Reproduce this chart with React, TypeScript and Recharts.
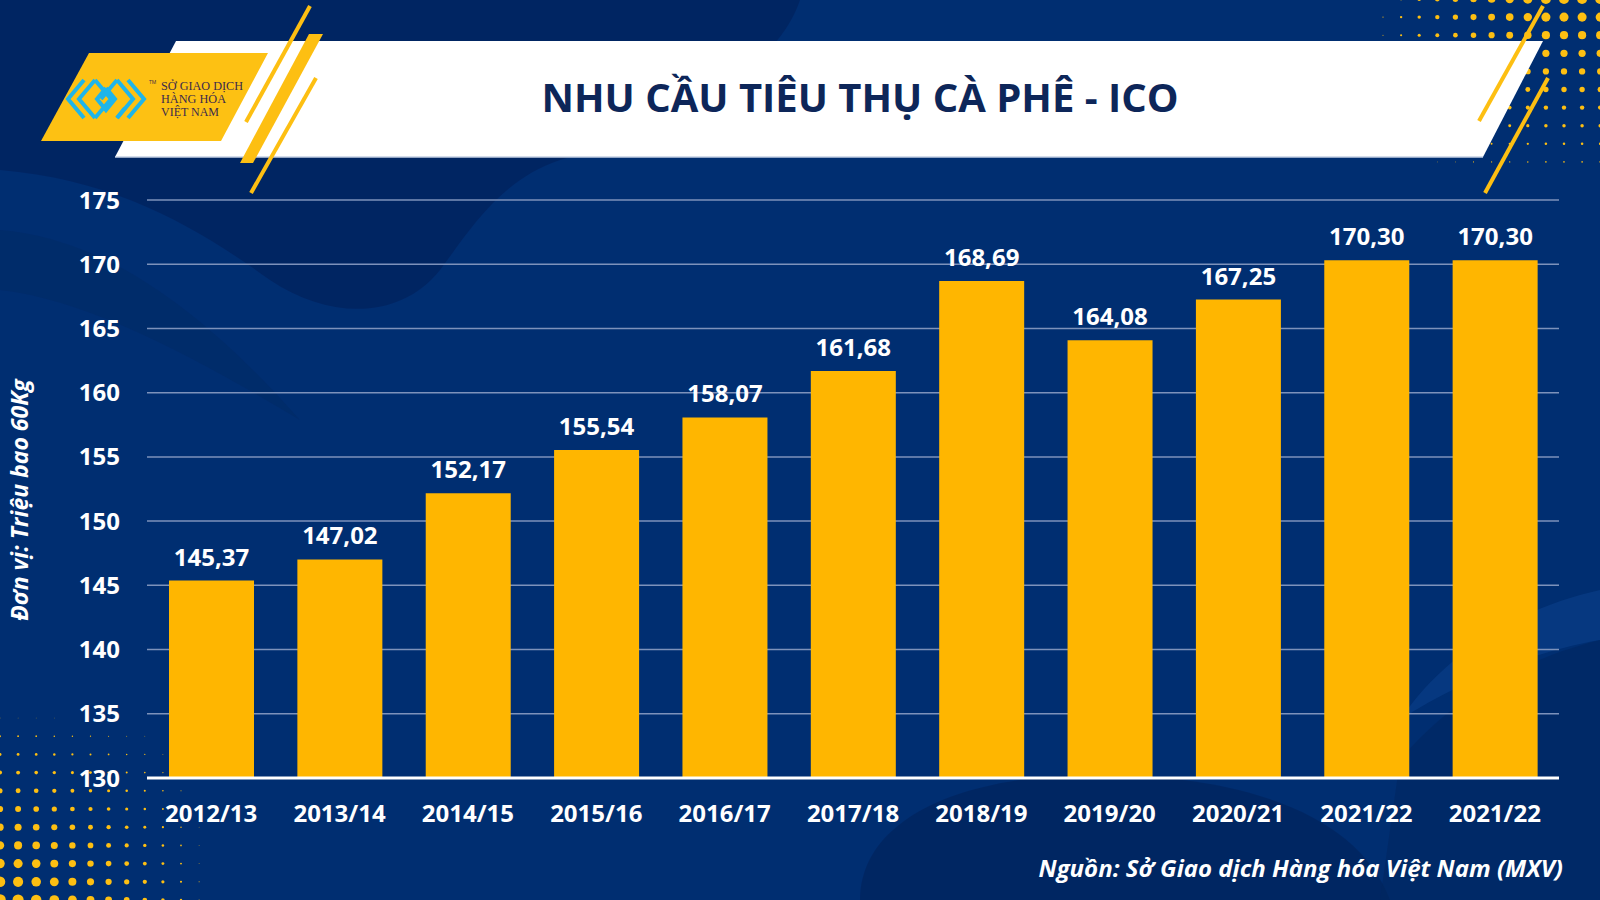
import React from "react";
import {Bar, BarChart, CartesianGrid, LabelList, XAxis, YAxis} from "recharts";

// nien vu (mua vu ca phe)
const seasons = [
    "2012/13", "2013/14", "2014/15", "2015/16", "2016/17", "2017/18",
    "2018/19", "2019/20", "2020/21", "2021/22", "2021/22",
];
// trieu bao 60kg
const demand = [145.37, 147.02, 152.17, 155.54, 158.07, 161.68, 168.69, 164.08, 167.25, 170.3, 170.3];
const yTicks = [130, 135, 140, 145, 150, 155, 160, 165, 170, 175];

const data = seasons.map((name, i) => ({name, value: demand[i]}));

const BG = "#002e71";
const YELLOW = "#FFB600";
const STRIPE = "#FDBF12";
const FONT = "'Open Sans', 'Noto Sans', sans-serif";

const fmt = (v: any) => Number(v).toFixed(2).replace(".", ",");

// halftone dots in the corners (decoration only)
function dotsTopRight() {
    const out: React.ReactNode[] = [];
    for (let y = -1; y < 170; y += 18.1) {
        for (let x = 1383; x < 1610; x += 18.1) {
            const rv = 5 - y * 0.026;
            const f = Math.min(1, Math.max(0, (x - 1372) / 174));
            const r = rv * Math.pow(f, 0.75);
            if (r > 0.3) out.push(<circle key={`tr${x}-${y}`} cx={x} cy={y} r={r} fill={STRIPE}/>);
        }
    }
    return out;
}

function dotsBottomLeft() {
    const out: React.ReactNode[] = [];
    for (let y = 718; y < 905; y += 18.2) {
        for (let x = 0; x < 205; x += 18.1) {
            const rv = 5.3 * Math.max(0, (y - 705) / 177);
            const f = Math.max(0, 1 - Math.pow(x / 215, 1.3));
            const r = rv * f;
            if (r > 0.3) out.push(<circle key={`bl${x}-${y}`} cx={x} cy={y} r={r} fill={STRIPE}/>);
        }
    }
    return out;
}

function Background() {
    return (
        <svg width={1600} height={900} style={{position: "absolute", left: 0, top: 0}}>
            <rect x={0} y={0} width={1600} height={900} fill={BG}/>
            {/* soft waves */}
            <path d="M0,0 H800 C780,60 700,120 560,160 C500,180 470,230 440,270 C400,320 330,320 270,280 C200,230 120,180 0,170 Z"
                  fill="#00235f" opacity={0.8}/>
            <path d="M0,230 C120,240 220,330 300,420 C200,360 90,300 0,290 Z" fill="#00285f" opacity={0.35}/>
            <path d="M860,900 C860,820 960,770 1120,775 C1260,780 1360,820 1390,900 Z" fill="#00235c" opacity={0.7}/>
            <path d="M1600,590 C1510,610 1440,660 1400,720 C1460,680 1540,650 1600,640 Z" fill="#0a3f8a" opacity={0.6}/>
            <path d="M1600,640 C1520,660 1450,700 1400,760 L1380,900 H1600 Z" fill="#00265f" opacity={0.55}/>

            {dotsTopRight()}
            {dotsBottomLeft()}

            {/* title banner */}
            <polygon points="176,41 1543,41 1483,157 115,157" fill="#ffffff"/>
            <line x1={115} y1={157} x2={1483} y2={157} stroke="#c5d0e4" strokeWidth={1.5}/>
            <text x={860} y={112} textAnchor="middle" fill="#0d2659" fontSize={40} fontWeight={700}
                  fontFamily={FONT}>NHU CẦU TIÊU THỤ CÀ PHÊ - ICO</text>

            {/* logo block */}
            <polygon points="89,53 268,53 221,141 41,141" fill="#FDC113"/>
            <g stroke="#1fb5ea" strokeWidth={4} fill="none" strokeLinejoin="miter">
                <polyline points="84,80 68,99 84,118"/>
                <polyline points="95,80 79,99 95,118"/>
                <polyline points="95,80 111,99 95,118"/>
                <polyline points="106,88 97,99 106,110 115,99 106,88"/>
                <polyline points="117,80 133,99 117,118"/>
                <polyline points="117,80 101,99"/>
                <polyline points="128,80 144,99 128,118"/>
                <polyline points="117,118 125,108"/>
            </g>
            <g fill="#3b2a4c" fontFamily="'Liberation Serif', serif" fontSize={13}>
                <text x={161} y={90} textLength={82} lengthAdjust="spacingAndGlyphs">SỞ GIAO DỊCH</text>
                <text x={161} y={103} textLength={65} lengthAdjust="spacingAndGlyphs">HÀNG HÓA</text>
                <text x={161} y={116} textLength={58} lengthAdjust="spacingAndGlyphs">VIỆT NAM</text>
            </g>
            <text x={149} y={84} fill="#3b2a4c" fontSize={5} fontFamily={FONT}>TM</text>

            {/* yellow slashes */}
            <line x1={310} y1={6} x2={246} y2={122} stroke={STRIPE} strokeWidth={4}/>
            <polygon points="309,34 323,34 253,163 240,163" fill={STRIPE}/>
            <line x1={316} y1={78} x2={251} y2={193} stroke={STRIPE} strokeWidth={4}/>
            <line x1={1543} y1={6} x2={1479} y2={121} stroke={STRIPE} strokeWidth={4}/>
            <line x1={1548} y1={78} x2={1485} y2={193} stroke={STRIPE} strokeWidth={4}/>

            {/* axis title and source */}
            <text transform="translate(28,500) rotate(-90)" textAnchor="middle" fill="#ffffff" fontSize={23}
                  fontWeight={700} fontStyle="italic" fontFamily={FONT}>Đơn vị: Triệu bao 60Kg</text>
            <text x={1563} y={877} textAnchor="end" fill="#ffffff" fontSize={24} fontWeight={700}
                  fontStyle="italic" fontFamily={FONT}>Nguồn: Sở Giao dịch Hàng hóa Việt Nam (MXV)</text>
        </svg>
    );
}

export default function App() {
    const tickStyle = {fill: "#ffffff", fontSize: 24, fontWeight: 700, fontFamily: FONT};
    return (
        <div style={{position: "fixed", left: 0, top: 0, width: 1600, height: 900, overflow: "hidden",
            background: BG, fontFamily: FONT}}>
            <Background/>
            <div style={{position: "absolute", left: 0, top: 0}}>
                <BarChart width={1600} height={900} data={data}
                          margin={{top: 200, right: 41, bottom: 0, left: 0}}>
                    <CartesianGrid vertical={false} stroke="#7d92bb" strokeWidth={1.5}/>
                    <YAxis domain={[130, 175]} ticks={yTicks} width={147} axisLine={false} tickLine={false}
                           tickSize={0} tickMargin={27} tick={tickStyle} allowDataOverflow/>
                    <XAxis dataKey="name" height={122} interval={0} tickLine={false} tickSize={0}
                           tickMargin={27} tick={tickStyle} axisLine={{stroke: "#ffffff", strokeWidth: 3}}/>
                    <Bar dataKey="value" fill={YELLOW} barSize={85} isAnimationActive={false}>
                        <LabelList dataKey="value" position="top" offset={15} formatter={fmt}
                                   fill="#ffffff" fontSize={24} fontWeight={700} fontFamily={FONT}/>
                    </Bar>
                </BarChart>
            </div>
        </div>
    );
}
